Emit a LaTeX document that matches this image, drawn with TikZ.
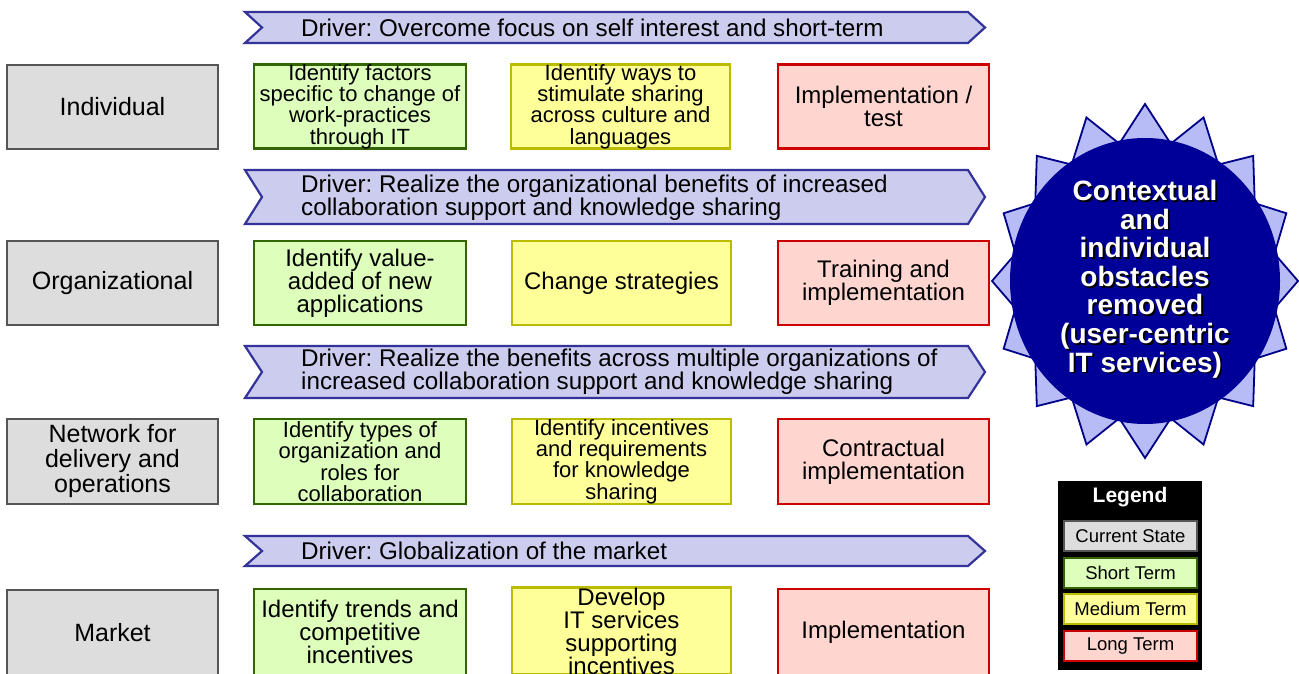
\documentclass[tikz,border=0pt]{standalone}
\usepackage{fontspec}
\setmainfont{Liberation Sans}
\definecolor{curfill}{HTML}{DDDDDD}
\definecolor{curdraw}{HTML}{555555}
\definecolor{shfill}{HTML}{DDFFBB}
\definecolor{shdraw}{HTML}{336600}
\definecolor{mdfill}{HTML}{FFFF99}
\definecolor{mddraw}{HTML}{BBBB00}
\definecolor{lgfill}{HTML}{FFD5D0}
\definecolor{lgdraw}{HTML}{CC0000}
\definecolor{drvfill}{HTML}{CCCCEE}
\definecolor{drvdraw}{HTML}{333399}
\definecolor{ptfill}{HTML}{B8BCF6}
\definecolor{ptdraw}{HTML}{000088}
\definecolor{navy}{HTML}{000099}
\newcommand\drivershape[2]{\draw[drv] (245,#1) -- (968,#1) -- (985,{(#1+#2)/2}) -- (968,#2) -- (245,#2) -- (262,{(#1+#2)/2}) -- cycle;}
\frenchspacing
\begin{document}
\begin{tikzpicture}[x=1pt,y=-1pt,
  box/.style={draw, line width=2.6pt, align=center, inner sep=0pt},
  big/.style={font=\fontsize{24}{23}\selectfont},
  small/.style={font=\fontsize{22}{21.3}\selectfont},
  cur/.style={box, fill=curfill, draw=curdraw, minimum width=211pt, font=\fontsize{25}{25}\selectfont},
  short/.style={box, fill=shfill, draw=shdraw, minimum width=212pt},
  med/.style={box, fill=mdfill, draw=mddraw, minimum width=219pt},
  long/.style={box, fill=lgfill, draw=lgdraw, minimum width=211pt},
  hA/.style={minimum height=84pt},
  hB/.style={minimum height=85pt},
  hC/.style={minimum height=86pt},
  drv/.style={fill=drvfill, draw=drvdraw, line width=2.2pt, line join=miter},
  drvtext/.style={anchor=west, align=left, inner sep=0pt, font=\fontsize{24.2}{23}\selectfont},
  startext/.style={align=center, inner sep=0pt, font=\fontsize{28}{28.6}\selectfont\bfseries},
  legbox/.style={box, line width=2.4pt, minimum width=133pt, minimum height=30pt, font=\fontsize{18.5}{20}\selectfont},
]
\useasboundingbox (0,0) rectangle (1299,674);
\clip (0,0) rectangle (1299,674);

% drivers
\drivershape{12}{43}
\node[drvtext] (d1) at (301,27.5) {Driver: Overcome focus on self interest and short-term};
\drivershape{170}{224}
\node[drvtext] (d2) at (301,197.5) {Driver: Realize the organizational benefits of increased\\collaboration support and knowledge sharing};
\drivershape{346}{398}
\node[drvtext] (d3) at (301,372) {Driver: Realize the benefits across multiple organizations of\\increased collaboration support and knowledge sharing};
\drivershape{536}{566}
\node[drvtext] (d4) at (301,551) {Driver: Globalization of the market};

% row 1
\node[cur, hA] (c1) at (112.5,107) {Individual};
\node[short, hA, small] (s1) at (360,106.5) {Identify factors\\specific to change of\\work-practices\\through IT};
\node[med, hA, small] (m1) at (620.5,106.5) {Identify ways to\\stimulate sharing\\across culture and\\languages};
\node[long, hA, big] (l1) at (883.5,106.5) {Implementation /\\test};

% row 2
\node[cur, hA] (c2) at (112.5,283) {Organizational};
\node[short, hA, big] (s2) at (360,283) {Identify value-\\added of new\\applications};
\node[med, hA, big] (m2) at (621.5,283) {Change strategies};
\node[long, hA, big] (l2) at (883.5,283) {Training and\\implementation};

% row 3
\node[cur, hB] (c3) at (112.5,461.5) {Network for\\delivery and\\operations};
\node[short, hB, small] (s3) at (360,461.5) {Identify types of\\organization and\\roles for\\collaboration};
\node[med, hB, small] (m3) at (621.5,461.5) {Identify incentives\\and requirements\\for knowledge\\sharing};
\node[long, hB, big] (l3) at (883.5,461.5) {Contractual\\implementation};

% row 4
\node[cur, hC] (c4) at (112.5,633) {Market};
\node[short, hC, big] (s4) at (360,632) {Identify trends and\\competitive\\incentives};
\node[med, hC, big] (m4) at (621.5,631) {Develop\\IT services\\supporting\\incentives};
\node[long, hC, big] (l4) at (883.5,632) {Implementation};

% star
\begin{scope}[shift={(1145,281)}]
\draw[fill=ptfill, draw=ptdraw, line width=1.8pt, line join=miter]
  (0:153 and 177) \foreach \i in {1,...,15}{ -- ({\i*22.5-11.25}:132 and 140) -- ({\i*22.5}:153 and 177)} -- (-11.25:132 and 140) -- cycle;
\fill[navy] (0,0) ellipse (135 and 143);
\end{scope}
\node[startext, text=black] (goalshadow) at (1146.8,280.8) {Contextual\\and\\individual\\obstacles\\removed\\(user-centric\\IT services)};
\node[startext, text=white] (goal) at (1145,279) {Contextual\\and\\individual\\obstacles\\removed\\(user-centric\\IT services)};

% legend
\fill[black] (1058,481) rectangle (1202,670);
\node[text=white, font=\fontsize{21}{21}\selectfont\bfseries, inner sep=0pt] (legtitle) at (1130,497) {Legend};
\node[legbox, fill=curfill, draw=curdraw] (lc) at (1130.5,536) {Current State};
\node[legbox, fill=shfill, draw=shdraw] (ls) at (1130.5,573) {Short Term};
\node[legbox, fill=mdfill, draw=mddraw] (lm) at (1130.5,609) {Medium Term};
\node[legbox, fill=lgfill, draw=lgdraw] (ll) at (1130.5,646) {Long Term};
\end{tikzpicture}
\end{document}
